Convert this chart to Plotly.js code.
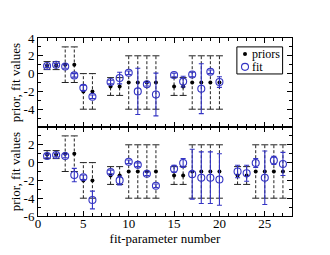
<!DOCTYPE html>
<html><head><meta charset="utf-8">
<script src="https://cdn.plot.ly/plotly-3.0.1.min.js"></script>
<style>html,body{margin:0;padding:0;background:#fff}</style>
</head><body><div id="chart" style="width:330px;height:255px"></div>
<script>
// ---- data ----
const topIndex   = [1,2,3,4,5,6,8,9,10,11,12,13,15,16,17,18,19,20];
const topPrior   = [0.9,0.9,1,1,-2,-2,-1.45,-1.45,-1,-1,-1,-1,-1.45,-1.45,-1,-1,-1,-1];
const topPriorErr= [0.45,0.45,2,2,2,2,1,1,3,3,3,3,1,1,3,3,3,3];
const topFit     = [0.85,1.0,0.8,-0.2,-1.6,-2.6,-0.95,-0.5,0.1,-2.0,-1.2,-2.35,-0.15,-0.9,-0.1,-1.7,0.2,-0.95];
const topFitErr  = [0.15,0.15,0.2,0.2,0.3,0.2,0.2,0.65,0.2,2.6,0.2,2.4,0.2,0.6,0.25,2.8,0.2,0.6];

const botIndex   = [1,2,3,4,5,6,8,9,10,11,12,13,15,16,17,18,19,20,22,23,24,25,26,27];
const botPrior   = [0.9,0.9,1,1,-2,-2,-1.45,-1.45,-1,-1,-1,-1,-1.45,-1.45,-1,-1,-1,-1,-1.45,-1.45,-1,-1,-1,-1];
const botPriorErr= [0.45,0.45,2,2,2,2,1,1,3,3,3,3,1,1,3,3,3,3,1,1,3,3,3,3];
const botFit     = [0.75,0.85,0.75,-1.4,-1.65,-4.2,-1.05,-2.0,0.1,-0.25,-1.25,-2.6,-0.7,-0.05,-1.3,-1.7,-1.7,-1.9,-1.0,-1.2,-0.05,-1.7,0.25,-0.15];
const botFitErr  = [0.2,0.2,0.2,0.75,0.25,1.0,0.2,0.5,0.2,0.2,0.2,0.2,0.4,0.5,2.8,2.9,2.9,2.9,0.7,0.9,0.5,3.0,0.45,1.3];

const xTicks = [0,5,10,15,20,25];
const xTickText = ['0','5','10','15','20','25'];
const topYTicks = [-6,-4,-2,0,2,4];
const topYText  = ['','-4','-2','0','2','4'];
const botYTicks = [-6,-4,-2,0,2,4];
const botYText  = ['-6','-4','-2','0','2',''];
const legendNames = ['priors','fit'];

// ---- styles ----
const BLUE = '#3434c4';
const FONT = 'Liberation Serif, Times New Roman, serif';

function priorTraces(xs, ys, es, xa, ya){
  const bx=[], by=[], cx=[], cy=[];
  xs.forEach((x,i)=>{
    bx.push(x,x,null); by.push(ys[i]-es[i], ys[i]+es[i], null);
    cx.push(x,x); cy.push(ys[i]-es[i], ys[i]+es[i]);
  });
  return [
    {x:bx, y:by, xaxis:xa, yaxis:ya, mode:'lines', line:{color:'#222', width:1, dash:'3px,2px'}, showlegend:false, hoverinfo:'skip'},
    {x:cx, y:cy, xaxis:xa, yaxis:ya, mode:'markers', marker:{symbol:'line-ew', size:5, line:{color:'#222', width:1}}, showlegend:false, hoverinfo:'skip'}
  ];
}
const fitMarker = {symbol:'circle-open', color:BLUE, size:7, line:{width:1.1, color:BLUE}};

// legend box position (paper coords; plot area is 253.4 x 178 px)
const LX0 = 0.783, LX1 = 0.963, LY0 = 0.798, LY1 = 0.95;
const legRowY = [0.91, 0.838];
const legSymX = 0.815, legTextX = 0.838;

const data = [
  ...priorTraces(topIndex, topPrior, topPriorErr, 'x2', 'y2'),
  ...priorTraces(botIndex, botPrior, botPriorErr, 'x', 'y'),
  {x:topIndex, y:topPrior, xaxis:'x2', yaxis:'y2', mode:'markers', name:'priors', marker:{color:'black', size:4}},
  {x:botIndex, y:botPrior, xaxis:'x', yaxis:'y', mode:'markers', name:'priors', marker:{color:'black', size:4}},
  {x:topIndex, y:topFit, xaxis:'x2', yaxis:'y2', mode:'markers', name:'fit', marker:fitMarker,
   error_y:{type:'data', array:topFitErr, visible:true, color:BLUE, thickness:1.1, width:2.5}},
  {x:botIndex, y:botFit, xaxis:'x', yaxis:'y', mode:'markers', name:'fit', marker:fitMarker,
   error_y:{type:'data', array:botFitErr, visible:true, color:BLUE, thickness:1.1, width:2.5}},
  // legend symbols on a hidden full-area axis pair
  {x:[legSymX], y:[legRowY[0]], xaxis:'x3', yaxis:'y3', mode:'markers', marker:{color:'black', size:4}, hoverinfo:'skip', cliponaxis:false},
  {x:[legSymX], y:[legRowY[1]], xaxis:'x3', yaxis:'y3', mode:'markers', marker:fitMarker, hoverinfo:'skip', cliponaxis:false}
];

const axCommon = {
  showline:true, linecolor:'black', linewidth:1, mirror:'ticks',
  ticks:'inside', ticklen:5, tickcolor:'black', tickwidth:1,
  showgrid:false, zeroline:false,
  tickfont:{family:FONT, size:13, color:'black'}
};
const minorT = {tickmode:'linear', tick0:0, dtick:1, ticks:'inside', ticklen:3, tickcolor:'black'};

const layout = {
  width:330, height:255,
  margin:{l:38, r:38, t:38, b:39},
  paper_bgcolor:'white', plot_bgcolor:'rgba(0,0,0,0)',
  font:{family:FONT, size:13, color:'black'},
  showlegend:false,
  xaxis:Object.assign({}, axCommon, {
    domain:[0,1], anchor:'y', range:[0,28],
    tickmode:'array', tickvals:xTicks, ticktext:xTickText, minor:minorT,
    ticklabelstandoff:-5,
    title:{text:'fit-parameter number', font:{family:FONT, size:13}, standoff:0}
  }),
  xaxis2:Object.assign({}, axCommon, {
    domain:[0,1], anchor:'y2', range:[0,28], matches:'x',
    tickmode:'array', tickvals:xTicks, showticklabels:false, minor:minorT
  }),
  yaxis:Object.assign({}, axCommon, {
    domain:[0,0.5], anchor:'x', range:[-6,4],
    tickmode:'array', tickvals:botYTicks, ticktext:botYText, minor:minorT,
    title:{text:'prior, fit values', font:{family:FONT, size:13}, standoff:0}
  }),
  yaxis2:Object.assign({}, axCommon, {
    domain:[0.5,1], anchor:'x2', range:[-6,4],
    tickmode:'array', tickvals:topYTicks, ticktext:topYText, minor:minorT,
    title:{text:'prior, fit values', font:{family:FONT, size:13}, standoff:0}
  }),
  xaxis3:{domain:[0,1], range:[0,1], anchor:'y3', visible:false, fixedrange:true},
  yaxis3:{domain:[0,1], range:[0,1], anchor:'x3', visible:false, fixedrange:true},
  shapes:[
    {type:'rect', xref:'paper', yref:'paper', x0:LX0, x1:LX1, y0:LY0, y1:LY1,
     line:{color:'black', width:1}, fillcolor:'white', layer:'below'}
  ],
  annotations:legendNames.map((n,i)=>({
    xref:'paper', yref:'paper', x:legTextX, y:legRowY[i], xanchor:'left', yanchor:'middle',
    text:n, showarrow:false, borderpad:0, font:{family:FONT, size:12, color:'black'}
  }))
};

Plotly.newPlot('chart', data, layout, {displayModeBar:false, staticPlot:true});
</script>
</body></html>
